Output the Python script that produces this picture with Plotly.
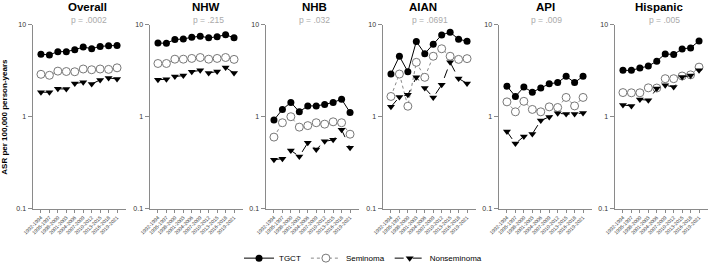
import plotly.graph_objects as go

periods = ["1992-1994", "1995-1997", "1998-2000", "2001-2003", "2004-2006",
           "2007-2009", "2010-2012", "2013-2015", "2016-2018", "2019-2021"]
groups = ["Overall", "NHW", "NHB", "AIAN", "API", "Hispanic"]
pvals = ["p = .0002", "p = .215", "p = .032", "p = .0691", "p = .009", "p = .005"]

tgct_overall = [4.77, 4.70, 5.10, 5.10, 5.35, 5.72, 5.49, 5.81, 5.90, 5.95]
sem_overall = [2.89, 2.82, 3.13, 3.10, 3.08, 3.30, 3.24, 3.30, 3.27, 3.40]
nonsem_overall = [1.85, 1.84, 2.01, 2.00, 2.29, 2.37, 2.27, 2.51, 2.64, 2.57]

tgct_nhw = [6.31, 6.30, 6.90, 7.00, 7.30, 7.50, 7.20, 7.40, 7.80, 7.20]
sem_nhw = [3.79, 3.79, 4.22, 4.22, 4.30, 4.40, 4.22, 4.30, 4.40, 4.20]
nonsem_nhw = [2.53, 2.55, 2.73, 2.80, 3.08, 3.19, 2.98, 3.10, 3.43, 2.98]

tgct_nhb = [0.92, 1.20, 1.43, 1.13, 1.31, 1.31, 1.36, 1.43, 1.55, 1.11]
sem_nhb = [0.60, 0.86, 1.00, 0.77, 0.80, 0.86, 0.83, 0.88, 0.86, 0.645]
nonsem_nhb = [0.34, 0.35, 0.43, 0.37, 0.52, 0.44, 0.54, 0.56, 0.72, 0.46]

tgct_aian = [2.91, 4.54, 3.08, 6.57, 4.85, 6.15, 7.75, 8.28, 6.96, 6.63]
sem_aian = [1.66, 2.91, 1.30, 3.90, 2.68, 4.54, 5.48, 4.54, 4.20, 4.28]
nonsem_aian = [1.28, 1.64, 1.73, 2.68, 2.05, 1.62, 2.22, 3.90, 2.60, 2.30]

tgct_api = [2.15, 1.66, 2.10, 1.85, 2.05, 2.28, 2.35, 2.75, 2.35, 2.75]
sem_api = [1.45, 1.13, 1.47, 1.20, 1.13, 1.28, 1.26, 1.62, 1.31, 1.62]
nonsem_api = [0.69, 0.51, 0.61, 0.65, 0.91, 0.99, 1.09, 1.07, 1.07, 1.10]

tgct_hisp = [3.19, 3.19, 3.38, 3.55, 4.02, 4.82, 4.74, 5.46, 5.60, 6.66]
sem_hisp = [1.83, 1.82, 1.82, 2.06, 2.05, 2.59, 2.59, 2.77, 2.85, 3.46]
nonsem_hisp = [1.34, 1.31, 1.54, 1.51, 2.02, 2.20, 2.10, 2.70, 2.80, 3.19]

data = {
    "Overall": (tgct_overall, sem_overall, nonsem_overall),
    "NHW": (tgct_nhw, sem_nhw, nonsem_nhw),
    "NHB": (tgct_nhb, sem_nhb, nonsem_nhb),
    "AIAN": (tgct_aian, sem_aian, nonsem_aian),
    "API": (tgct_api, sem_api, nonsem_api),
    "Hispanic": (tgct_hisp, sem_hisp, nonsem_hisp),
}

W, H = 709, 273
left_px = [32.5, 149.5, 265.5, 382.5, 498.5, 614.5]
panel_w = 93
title_x_px = [87, 206, 314, 423, 545, 659]
p_x_px = [89, 208, 314, 430, 546, 664]
ydom = [1 - 211 / H, 1 - 25 / H]

FONT = "Liberation Sans, Arial, sans-serif"
AXC = "#8a8a8a"

fig = go.Figure()
xs = list(range(len(periods)))
for i, g in enumerate(groups):
    t, s, n = data[g]
    xa = "x" if i == 0 else f"x{i+1}"
    ya = "y" if i == 0 else f"y{i+1}"
    show = i == 0
    fig.add_trace(go.Scatter(x=xs, y=t, mode="lines+markers", name="TGCT",
                             line=dict(color="black", width=1),
                             marker=dict(symbol="circle", size=7, color="black"),
                             xaxis=xa, yaxis=ya, showlegend=show, legendrank=1))
    fig.add_trace(go.Scatter(x=xs, y=s, mode="lines+markers", name="Seminoma",
                             line=dict(color="#888888", width=1, dash="dot"),
                             marker=dict(symbol="circle", size=8, color="white",
                                         line=dict(color="#777777", width=1)),
                             xaxis=xa, yaxis=ya, showlegend=show, legendrank=2))
    fig.add_trace(go.Scatter(x=xs, y=n, mode="lines+markers", name="Nonseminoma",
                             line=dict(color="black", width=1, dash="dash"),
                             marker=dict(symbol="triangle-down", size=7, color="black"),
                             xaxis=xa, yaxis=ya, showlegend=show, legendrank=3))

    x0 = left_px[i] / W
    x1 = (left_px[i] + panel_w) / W
    xkey = "xaxis" if i == 0 else f"xaxis{i+1}"
    ykey = "yaxis" if i == 0 else f"yaxis{i+1}"
    fig.layout[xkey] = dict(domain=[x0, x1], range=[-1, 10], anchor=ya,
                            tickmode="array", tickvals=xs, ticktext=periods,
                            tickangle=-45, tickfont=dict(size=5, color="#333333", family=FONT),
                            showline=True, linecolor=AXC, linewidth=1,
                            ticks="outside", ticklen=3, tickcolor=AXC,
                            showgrid=False, zeroline=False, automargin=False)
    fig.layout[ykey] = dict(domain=ydom, type="log", range=[-1, 1], anchor=xa,
                            tickmode="array", tickvals=[0.1, 1, 10],
                            ticktext=["0.1", "1", "10"],
                            tickfont=dict(size=7, color="#333333", family=FONT),
                            showline=True, linecolor=AXC, linewidth=1,
                            ticks="outside", ticklen=4, tickcolor=AXC,
                            showgrid=False, zeroline=False, automargin=False)
    fig.add_annotation(text=f"<b>{g}</b>", x=title_x_px[i] / W, y=1.0,
                       xref="paper", yref="paper", showarrow=False,
                       xanchor="center", yanchor="top", borderpad=0,
                       font=dict(size=11.5, color="black", family=FONT))
    fig.add_annotation(text=pvals[i], x=p_x_px[i] / W, y=1 - 20.5 / H,
                       xref="paper", yref="paper", showarrow=False,
                       xanchor="center", yanchor="middle", borderpad=0,
                       font=dict(size=8.5, color="#aaaaaa", family=FONT))

fig.add_annotation(text="<b>ASR per 100,000 person-years</b>", x=5 / W, y=1 - 118 / H,
                   xref="paper", yref="paper", showarrow=False, textangle=-90,
                   xanchor="center", yanchor="middle",
                   font=dict(size=8, color="black", family=FONT))

fig.update_layout(
    template="none",
    width=W, height=H, autosize=False,
    margin=dict(l=0, r=0, t=0, b=0, pad=0),
    paper_bgcolor="white", plot_bgcolor="white",
    showlegend=True,
    legend=dict(orientation="h", x=0.512, xanchor="center", y=12 / H, yanchor="middle",
                font=dict(size=8, color="black", family=FONT),
                bgcolor="rgba(0,0,0,0)", itemwidth=30),
    font=dict(family=FONT, color="#333333"),
)

fig.write_html("out.html", config={"displayModeBar": False},
               post_script="document.body.style.margin='0';document.body.style.overflow='hidden';")
